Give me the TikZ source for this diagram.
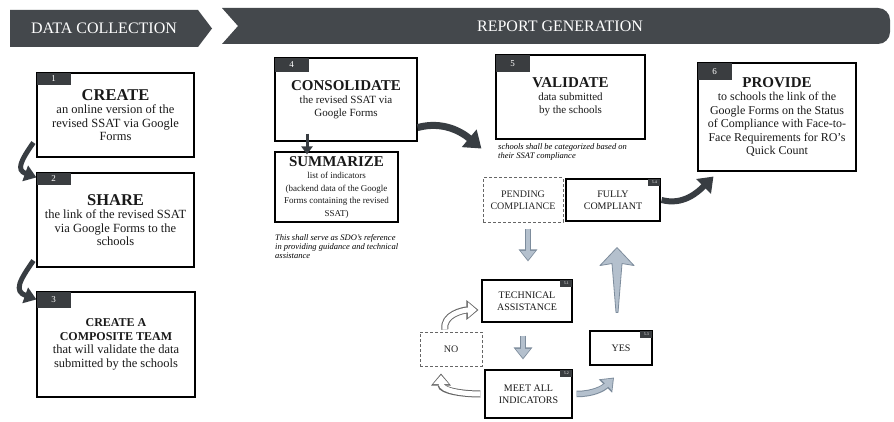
\documentclass[tikz,border=0pt]{standalone}
\usepackage{fontspec}
\setmainfont{Liberation Serif}
\usetikzlibrary{arrows.meta,calc}
\definecolor{bannerc}{HTML}{44484C}
\definecolor{badgec}{HTML}{3A3D40}
\definecolor{arrowc}{HTML}{383D42}
\definecolor{lightc}{HTML}{B4C0CD}
\definecolor{lightd}{HTML}{7D8C9C}
\newcommand\hdtxt[1]{{\fontsize{15}{17}\selectfont\bfseries #1}}
\newcommand\hdbig[1]{{\fontsize{16.5}{18}\selectfont\bfseries #1}}
\newcommand\hdsm[1]{{\fontsize{12}{14}\selectfont\bfseries #1}}
\tikzset{
  box/.style={draw=black, line width=1.1pt, align=center, inner sep=2pt,
    font=\fontsize{11}{13}\selectfont, text=black!90},
  bbox/.style={box, font=\fontsize{12.5}{13.5}\selectfont},
  dbox/.style={draw=black!60, line width=1pt, dash pattern=on 3pt off 2pt,
    align=center, inner sep=2pt, font=\fontsize{10}{12}\selectfont, text=black!85},
  sbox/.style={box, font=\fontsize{10}{12}\selectfont},
  badge/.style={fill=badgec, text=white, font=\fontsize{9}{9}\selectfont,
    minimum width=34pt, minimum height=14pt, inner sep=0pt, anchor=north west},
  minibadge/.style={fill=badgec, text=white, font=\fontsize{4}{4}\selectfont,
    minimum width=12pt, minimum height=7pt, inner sep=0pt, anchor=north east},
  note/.style={font=\fontsize{8.5}{9}\selectfont\itshape, align=left, anchor=north west, inner sep=0pt},
  bannertext/.style={text=white, font=\fontsize{16}{16}\selectfont},
  darrow/.style={draw=arrowc, line width=5pt, -{Triangle[width=16pt,length=12pt]}},
  louter/.style={draw=lightd, line width=6.5pt, -{Triangle[width=18pt,length=12pt]}},
  linner/.style={draw=lightc, line width=4.5pt, shorten >=1.5pt, -{Triangle[width=14pt,length=9pt]}},
  oouter/.style={draw=black!60, line width=7pt, -{Triangle[width=19pt,length=12pt]}},
  oinner/.style={draw=white, line width=5pt, shorten >=1.6pt, -{Triangle[width=15pt,length=9pt]}},
}
\begin{document}
\begin{tikzpicture}[x=1pt,y=1pt]
\useasboundingbox (0,0) rectangle (894,421);
\fill[white] (0,0) rectangle (894,421);

% banners
\fill[bannerc] (10,411) -- (198,411) -- (212,392.5) -- (198,374) -- (10,374) -- cycle;
\node[bannertext] (dc) at (104,392.5) {DATA COLLECTION};
\fill[bannerc] (222,413) -- (238,395) -- (222,377) [rounded corners=12pt] -- (890,377) -- (890,413) [sharp corners] -- cycle;
\node[bannertext] (rg) at (560,395) {REPORT GENERATION};

% data collection boxes
\node[bbox, minimum width=157pt, minimum height=84pt] (b1) at (115.5,306)
  {\hdbig{CREATE}\\an online version of the\\revised SSAT via Google\\Forms};
\node[badge, minimum height=12pt] (n1) at (b1.north west) {1};
\node[bbox, minimum width=157pt, minimum height=94pt] (b2) at (115.5,201)
  {\hdbig{SHARE}\\the link of the revised SSAT\\via Google Forms to the\\schools};
\node[badge, minimum height=12pt] (n2) at (b2.north west) {2};
\node[bbox, minimum width=158pt, minimum height=105pt] (b3) at (116,76.5)
  {\hdsm{CREATE A}\\\hdsm{COMPOSITE TEAM}\\that will validate the data\\submitted by the schools};
\node[badge, minimum height=16pt] (n3) at (b3.north west) {3};

% report generation boxes
\node[box, minimum width=142pt, minimum height=83pt] (b4) at (346,321.5)
  {\hdtxt{CONSOLIDATE}\\the revised SSAT via\\Google Forms};
\node[badge] (n4) at (b4.north west) {4};
\node[box, minimum width=123pt, minimum height=70pt, font=\fontsize{9}{12.5}\selectfont] (b4s) at (336.5,234)
  {\hdtxt{SUMMARIZE}\\list of indicators\\(backend data of the Google\\Forms containing the revised\\SSAT)};
\node[note] (note4) at (275,187)
  {This shall serve as SDO's reference\\in providing guidance and technical\\assistance};

\node[box, minimum width=149pt, minimum height=84pt] (b5) at (570.5,324)
  {\hdtxt{VALIDATE}\\data submitted\\by the schools};
\node[badge, minimum height=17pt] (n5) at (b5.north west) {5};
\node[note] (note5) at (498,278)
  {schools shall be categorized based on\\their SSAT compliance};

\node[dbox, minimum width=80pt, minimum height=44pt] (pend) at (523,221) {PENDING\\COMPLIANCE};
\node[sbox, minimum width=94pt, minimum height=42pt] (full) at (613,221) {FULLY\\COMPLIANT};
\node[minibadge] (n54) at (full.north east) {5.4};

\node[box, minimum width=158pt, minimum height=108pt, font=\fontsize{12}{13.5}\selectfont] (b6) at (777,304)
  {\hdtxt{PROVIDE}\\to schools the link of the\\Google Forms on the Status\\of Compliance with Face-to-\\Face Requirements for RO's\\Quick Count};
\node[badge, minimum height=17pt] (n6) at (b6.north west) {6};

\node[sbox, minimum width=90pt, minimum height=42pt] (ta) at (527,120) {TECHNICAL\\ASSISTANCE};
\node[minibadge] (n51) at (ta.north east) {5.1};
\node[sbox, minimum width=87pt, minimum height=48pt] (meet) at (528.5,27) {MEET ALL\\INDICATORS};
\node[minibadge] (n52) at (meet.north east) {5.2};
\node[dbox, minimum width=62pt, minimum height=34pt] (no) at (451,72) {NO};
\node[sbox, minimum width=62pt, minimum height=34pt] (yes) at (621,73) {YES};
\node[minibadge] (n53) at (yes.north east) {5.3};

% dark arrows
\draw[darrow] ([xshift=-3pt,yshift=15pt]b1.south west) to[out=235,in=160,looseness=1.6] ([yshift=-5pt]b2.north west);
\draw[darrow] ([xshift=-3pt,yshift=7pt]b2.south west) to[out=235,in=160,looseness=1.6] ([yshift=-8pt]b3.north west);
\draw[draw=arrowc, line width=3pt, -{Triangle[width=11pt,length=8pt]}] ([xshift=-39pt,yshift=8pt]b4.south) -- ([xshift=-29.5pt,yshift=-3pt]b4s.north);
\draw[draw=arrowc, line width=7pt, -{Triangle[width=22pt,length=16pt]}] ([yshift=14pt]b4.south east) to[out=15,in=140] ([xshift=-14pt,yshift=-9pt]b5.south west);
\draw[draw=arrowc, line width=6pt, -{Triangle[width=20pt,length=14pt]}] ([xshift=1pt]full.east) to[out=-15,in=225] ([xshift=16pt,yshift=-5pt]b6.south west);

% light arrows
\draw[louter] ([xshift=5pt,yshift=-6pt]pend.south) -- ([xshift=1pt,yshift=18pt]ta.north);
\draw[linner] ([xshift=5pt,yshift=-6pt]pend.south) -- ([xshift=1pt,yshift=18pt]ta.north);
\draw[louter] ([xshift=-4pt,yshift=-13pt]ta.south) -- ([xshift=-5.5pt,yshift=10pt]meet.north);
\draw[linner] ([xshift=-4pt,yshift=-13pt]ta.south) -- ([xshift=-5.5pt,yshift=10pt]meet.north);
\draw[louter] ([xshift=4pt]meet.east) to[out=0,in=225] ([xshift=-7pt,yshift=-12pt]yes.south);
\draw[linner] ([xshift=4pt]meet.east) to[out=0,in=225] ([xshift=-7pt,yshift=-12pt]yes.south);
\coordinate (uptip) at ([xshift=4pt,yshift=-26pt]full.south);
\begin{scope}[shift={(uptip)}]
  \filldraw[fill=lightc, draw=lightd, line width=0.8pt, line join=round]
    (0,0) -- (17,-18) -- (5,-16) -- (1,-65) -- (-1,-65) -- (-5,-16) -- (-17,-18) -- cycle;
\end{scope}

% outlined arrows
\draw[oouter] ([xshift=-6pt,yshift=2pt]no.north) to[out=100,in=180] ([xshift=-3pt,yshift=-9pt]ta.west);
\draw[oinner] ([xshift=-6pt,yshift=2pt]no.north) to[out=100,in=180] ([xshift=-3pt,yshift=-9pt]ta.west);
\draw[oouter] ([xshift=-4pt]meet.west) to[out=180,in=270] ([xshift=-10pt,yshift=-7pt]no.south);
\draw[oinner] ([xshift=-4pt]meet.west) to[out=180,in=270] ([xshift=-10pt,yshift=-7pt]no.south);
\end{tikzpicture}
\end{document}
